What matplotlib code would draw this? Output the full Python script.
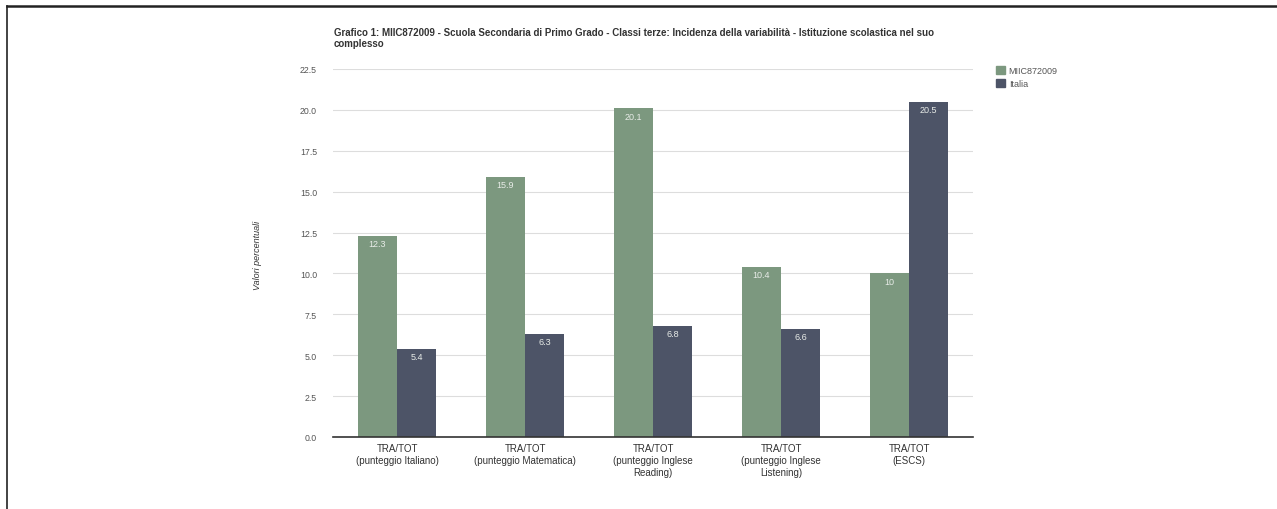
import matplotlib
matplotlib.use("Agg")
import matplotlib.pyplot as plt
from matplotlib.lines import Line2D
from matplotlib.patches import Patch
import numpy as np

categories = ["TRA/TOT\n(punteggio Italiano)", "TRA/TOT\n(punteggio Matematica)",
              "TRA/TOT\n(punteggio Inglese\nReading)", "TRA/TOT\n(punteggio Inglese\nListening)",
              "TRA/TOT\n(ESCS)"]
school = [12.3, 15.9, 20.1, 10.4, 10.0]
italia = [5.4, 6.3, 6.8, 6.6, 20.5]
school_labels = ["12.3", "15.9", "20.1", "10.4", "10"]
italia_labels = ["5.4", "6.3", "6.8", "6.6", "20.5"]
series_names = ["MIIC872009", "Italia"]
yticks = [0.0, 2.5, 5.0, 7.5, 10.0, 12.5, 15.0, 17.5, 20.0, 22.5]
title = ("Grafico 1: MIIC872009 - Scuola Secondaria di Primo Grado - Classi terze: Incidenza della "
         "variabilità - Istituzione scolastica nel suo\ncomplesso")

GREEN = "#7c987f"
DARK = "#4d5467"

plt.rcParams['font.family'] = ['Liberation Sans', 'DejaVu Sans']

W, H = 1277, 510
fig = plt.figure(figsize=(W / 100, H / 100), dpi=100)

# document border lines
fig.add_artist(Line2D([7 / W, 1], [1 - 7 / H, 1 - 7 / H], color="#222222", lw=1.8))
fig.add_artist(Line2D([7 / W, 7 / W], [0, 1 - 7 / H], color="#222222", lw=1.2))

ax = fig.add_axes([333 / W, 1 - 438 / H, (973 - 333) / W, (438 - 70) / H])
x = np.arange(len(categories))
bw = 0.305
b1 = ax.bar(x - bw / 2, school, bw, color=GREEN, zorder=3)
b2 = ax.bar(x + bw / 2, italia, bw, color=DARK, zorder=3)

for rects, labs in ((b1, school_labels), (b2, italia_labels)):
    for r, lab in zip(rects, labs):
        ax.text(r.get_x() + r.get_width() / 2, r.get_height() - 0.2, lab,
                ha="center", va="top", fontsize=6.5, color="#e8ece8", zorder=4)

ax.set_xlim(-0.5, len(categories) - 0.5)
ax.set_ylim(0, 22.5)
ax.set_yticks(yticks)
ax.set_yticklabels([f"{v:.1f}" for v in yticks], fontsize=6.3, color="#555555")
ax.set_xticks(x)
ax.set_xticklabels(categories, fontsize=7, color="#333333", linespacing=1.25)
ax.tick_params(axis="y", length=0, pad=11.5)
ax.tick_params(axis="x", length=0, pad=4)
ax.grid(axis="y", color="#dddddd", lw=0.8, zorder=0)
for s in ("top", "right", "left"):
    ax.spines[s].set_visible(False)
ax.spines["bottom"].set_color("#333333")
ax.spines["bottom"].set_linewidth(1.2)
ax.spines["bottom"].set_zorder(5)

fig.text(258 / W, 1 - 255 / H, "Valori percentuali", rotation=90, ha="center", va="center",
         fontsize=6.5, style="italic", color="#333333")
fig.text(334 / W, 1 - 28 / H, title, ha="left", va="top", fontsize=7.0,
         fontweight="bold", color="#333333", linespacing=1.15)

handles = [Patch(color=GREEN), Patch(color=DARK)]
fig.legend(handles, series_names, loc="upper left", bbox_to_anchor=(996 / W, 1 - 67 / H),
           frameon=False, fontsize=6.5, handlelength=1.0, handleheight=1.0,
           handletextpad=0.4, labelspacing=0.45, borderaxespad=0, borderpad=0,
           labelcolor="#555555")

fig.savefig("out.png", dpi=100, facecolor="white")
